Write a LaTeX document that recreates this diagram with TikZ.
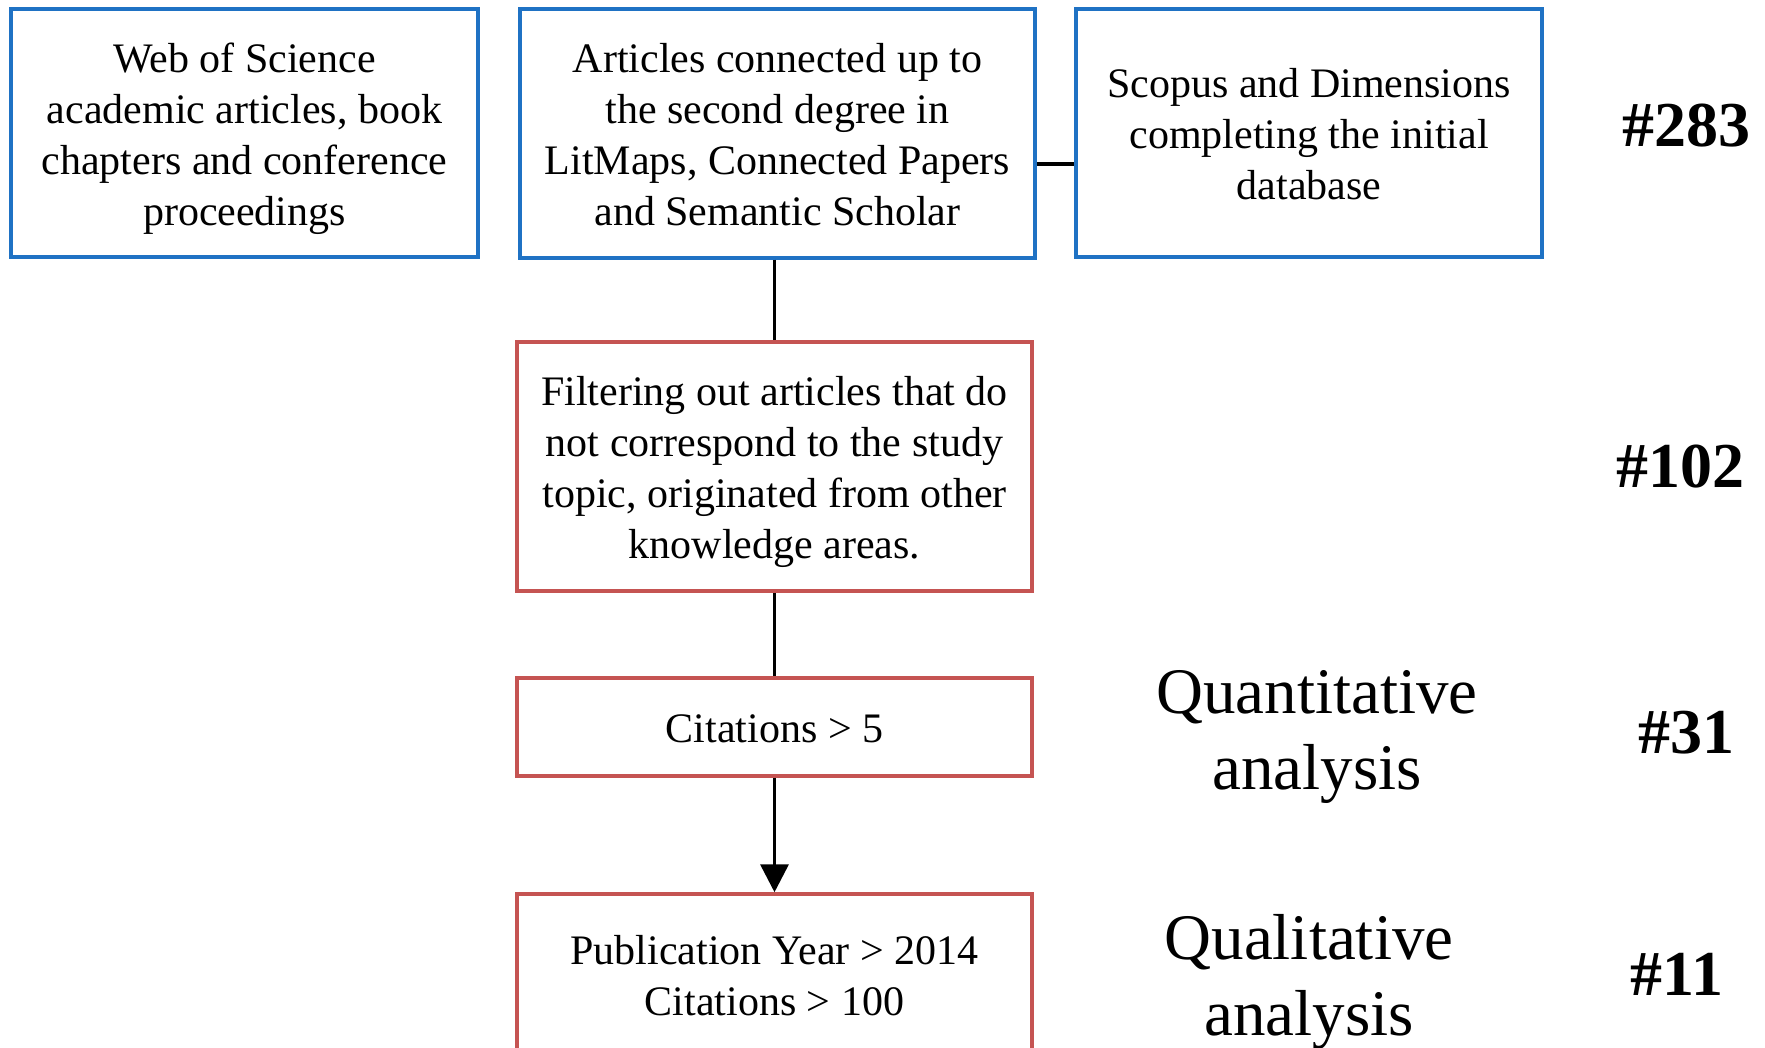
\documentclass[tikz,border=0pt]{standalone}
\usepackage{fontspec}
\setmainfont{Liberation Serif}
\usetikzlibrary{arrows.meta}
\definecolor{boxblue}{HTML}{1F72C4}
\definecolor{boxred}{HTML}{C55452}
\newcommand{\boxtext}[1]{\raisebox{-5.5pt}[\height][\depth]{\begin{tabular}{@{}c@{}}#1\end{tabular}}}
\begin{document}
\begin{tikzpicture}[x=1pt,y=-1pt,
  basebox/.style={line width=3.5pt,align=center,inner sep=0pt,font=\fontsize{42}{51}\selectfont},
  bluebox/.style={basebox,draw=boxblue},
  redbox/.style={basebox,draw=boxred},
  conn/.style={line width=3.5pt,black},
  biglabel/.style={font=\fontsize{65}{76}\selectfont,align=center},
  countlabel/.style={font=\fontsize{64}{70}\selectfont\bfseries}]
\useasboundingbox[fill=white] (0,0) rectangle (1765,1048);
\node[bluebox,minimum width=467pt,minimum height=248pt] (wos) at (244.5,133)
  {\boxtext{Web of Science\\academic articles, book\\chapters and conference\\proceedings}};
\node[bluebox,minimum width=515pt,minimum height=249pt] (lit) at (777.5,133.5)
  {\boxtext{Articles connected up to\\the second degree in\\LitMaps, Connected Papers\\and Semantic Scholar}};
\node[bluebox,minimum width=466pt,minimum height=248pt] (scop) at (1309,133)
  {\boxtext{Scopus and Dimensions\\completing the initial\\database}};
\node[redbox,minimum width=515pt,minimum height=249pt] (filt) at (774.5,466.5)
  {\boxtext{Filtering out articles that do\\not correspond to the study\\topic, originated from other\\knowledge areas.}};
\node[redbox,minimum width=515pt,minimum height=98pt] (cit) at (774.5,727)
  {\boxtext{Citations > 5}};
\node[redbox,minimum width=515pt,minimum height=160pt] (pub) at (774.5,974)
  {\boxtext{Publication Year > 2014\\Citations > 100}};
\draw[conn] ([yshift=-30.5pt]lit.east) -- ([yshift=-30.5pt]lit.east -| scop.west);
\draw[conn] (lit.south -| filt.north) -- (filt.north);
\draw[conn] (filt.south) -- (cit.north);
\draw[conn,-{Triangle[length=28pt,width=28pt]}] (cit.south) -- (pub.north);
\node[biglabel] (quant) at (1317,737) {Quantitative\\analysis};
\node[biglabel] (qual) at (1309,982) {Qualitative\\analysis};
\node[countlabel] (c283) at (1686,126) {\#283};
\node[countlabel] (c102) at (1680,467) {\#102};
\node[countlabel] (c31) at (1686,733) {\#31};
\node[countlabel] (c11) at (1677,974) {\#11};
\end{tikzpicture}
\end{document}
